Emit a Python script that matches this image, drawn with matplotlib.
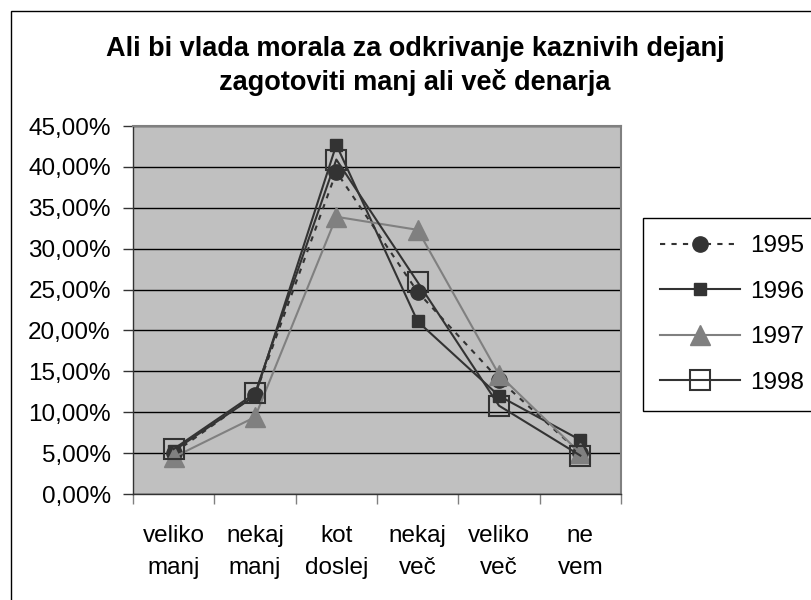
import matplotlib
matplotlib.use("Agg")
import matplotlib.pyplot as plt
import matplotlib.patches as patches
import numpy as np

plt.rcParams["font.family"] = ["Liberation Sans", "DejaVu Sans"]

#%% data

title      = "Ali bi vlada morala za odkrivanje kaznivih dejanj\nzagotoviti manj ali več denarja"
categories = ["veliko\nmanj", "nekaj\nmanj", "kot\ndoslej", "nekaj\nveč", "veliko\nveč", "ne\nvem"]
years      = ["1995", "1996", "1997", "1998"]

v1995 = [5.0, 12.1, 39.4, 24.7, 14.0, 5.0]
v1996 = [5.3, 12.0, 42.7, 21.1, 12.0, 6.6]
v1997 = [4.5,  9.4, 33.9, 32.3, 14.6, 5.0]
v1998 = [5.5, 12.3, 40.9, 25.9, 10.8, 4.7]

yticks = np.arange(0, 46, 5)

#%% figure

W, H = 812, 600
fig = plt.figure(figsize=(W / 100, H / 100), dpi=100)

# outer chart frame
fig.patches.append(patches.Rectangle((11 / W, -0.01), 1.02, 1 - 11 / H + 0.01, transform=fig.transFigure,
                                     fill=False, edgecolor="black", linewidth=1))

left, right, top, bottom = 133, 621, 126, 494
ax = fig.add_axes([left / W, 1 - bottom / H, (right - left) / W, (bottom - top) / H])
ax.set_facecolor("#c0c0c0")

x = np.arange(len(categories))
dark = "#333333"
grey = "#808080"

ax.plot(x, v1995, color=dark, lw=1.5, dashes=(2.5, 3), marker="o", ms=11, mfc=dark, mec=dark,
        label=years[0], zorder=4)
ax.plot(x, v1996, color=dark, lw=1.5, marker="s", ms=9, mfc=dark, mec=dark, label=years[1], zorder=3)
ax.plot(x, v1997, color=grey, lw=1.5, marker="^", ms=15, mfc=grey, mec=grey, label=years[2], zorder=5)
ax.plot(x, v1998, color=dark, lw=1.5, marker="s", ms=14, mfc="none", mec=dark, mew=1.5,
        label=years[3], zorder=6)

ax.set_xlim(-0.5, len(categories) - 0.5)
ax.set_ylim(0, 45)

ax.set_yticks(yticks)
ax.set_yticklabels([f"{v:.2f}%".replace(".", ",") for v in yticks], fontsize=17.5)
ax.yaxis.grid(True, color="black", lw=1)
ax.set_axisbelow(True)

ax.set_xticks(np.arange(-0.5, len(categories)))
ax.set_xticklabels([])
ax.set_xticks(x, minor=True)
ax.set_xticklabels(categories, minor=True, fontsize=17.5, linespacing=1.6)
ax.tick_params(axis="x", which="major", length=7, width=1, color=grey)
ax.tick_params(axis="x", which="minor", length=0, pad=22)
ax.tick_params(axis="y", length=7, width=1, color=dark, pad=9)

for side in ["top", "right"]:
    ax.spines[side].set_color(grey)
    ax.spines[side].set_linewidth(1.5)
for side in ["left", "bottom"]:
    ax.spines[side].set_color(dark)
    ax.spines[side].set_linewidth(1)

fig.text(415 / W, 1 - 66 / H, title, ha="center", va="center", fontsize=19.5, fontweight="bold",
         linespacing=1.36)

leg = fig.legend(loc="upper left", bbox_to_anchor=(643 / W, 1 - 218 / H), fontsize=17.5,
                 handlelength=3.3, handletextpad=0.4, labelspacing=0.97, borderpad=0.7,
                 borderaxespad=0, fancybox=False, edgecolor="black", framealpha=1)
leg.get_frame().set_linewidth(1)

fig.savefig("out.png", dpi=100)
